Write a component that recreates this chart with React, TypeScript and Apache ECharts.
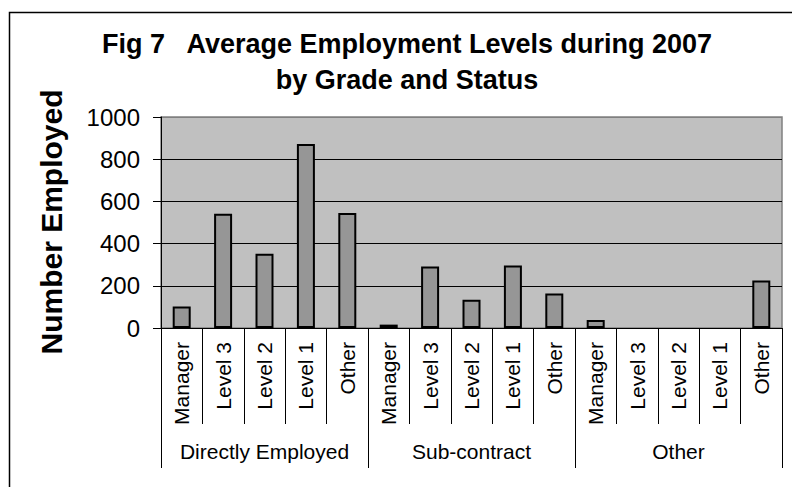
import React, { useEffect, useRef } from "react";
import * as echarts from "echarts";

const grades = ["Manager", "Level 3", "Level 2", "Level 1", "Other"];
const groups = ["Directly Employed", "Sub-contract", "Other"];
const directlyEmployed = [102, 542, 352, 872, 545];
const subContract = [16, 291, 134, 296, 164];
const otherStatus = [38, 0, 0, 0, 225];
const yTicks = [0, 200, 400, 600, 800, 1000];
const titleLine1 = "Fig 7   Average Employment Levels during 2007";
const titleLine2 = "by Grade and Status";
const yTitle = "Number Employed";

const FONT = "'Liberation Sans', Arial, sans-serif";

export default function App() {
  const ref = useRef<HTMLDivElement>(null);
  useEffect(() => {
    if (!ref.current) return;
    const chart = echarts.init(ref.current, undefined, { renderer: "svg" });
    const categories: string[] = [];
    groups.forEach(() => grades.forEach((g) => categories.push(g)));
    const values = [...directlyEmployed, ...subContract, ...otherStatus];
    const barData = values.map((v) =>
      v === 0 ? { value: v, itemStyle: { borderWidth: 0 } } : v
    );
    chart.setOption({
      animation: false,
      backgroundColor: "#ffffff",
      textStyle: { fontFamily: FONT },
      graphic: [
        {
          type: "polyline",
          z: -10,
          shape: {
            points: [
              [9.5, 487],
              [9.5, 12.5],
              [792, 12.5],
            ],
          },
          style: { fill: "none", stroke: "#000", lineWidth: 1.5 },
        },
        {
          type: "text",
          x: 407,
          y: 44,
          style: {
            text: titleLine1,
            font: `bold 27px ${FONT}`,
            fill: "#000",
            align: "center",
            verticalAlign: "middle",
          },
        },
        {
          type: "text",
          x: 407,
          y: 80,
          style: {
            text: titleLine2,
            font: `bold 27px ${FONT}`,
            fill: "#000",
            align: "center",
            verticalAlign: "middle",
          },
        },
        {
          type: "text",
          x: 51,
          y: 222,
          rotation: Math.PI / 2,
          style: {
            text: yTitle,
            font: `bold 30px ${FONT}`,
            fill: "#000",
            align: "center",
            verticalAlign: "middle",
          },
        },
      ],
      grid: {
        left: 161,
        top: 117,
        right: 10,
        bottom: 159,
        show: true,
        backgroundColor: "#c0c0c0",
        borderColor: "#808080",
        borderWidth: 1.5,
      },
      xAxis: [
        {
          type: "category",
          data: categories,
          position: "bottom",
          axisLine: { show: true, lineStyle: { color: "#000", width: 1 } },
          axisTick: {
            show: true,
            interval: 0,
            length: 96,
            lineStyle: { color: "#000", width: 1 },
          },
          axisLabel: {
            interval: 0,
            rotate: 90,
            margin: 14,
            fontSize: 21,
            color: "#000",
            fontFamily: FONT,
          },
          splitLine: { show: false },
        },
        {
          type: "category",
          data: groups,
          position: "bottom",
          axisLine: { show: false },
          axisTick: {
            show: true,
            interval: 0,
            length: 140,
            lineStyle: { color: "#000", width: 1 },
          },
          axisLabel: {
            interval: 0,
            margin: 113,
            fontSize: 21,
            color: "#000",
            fontFamily: FONT,
          },
          splitLine: { show: false },
        },
      ],
      yAxis: {
        type: "value",
        min: yTicks[0],
        max: yTicks[yTicks.length - 1],
        interval: 200,
        axisLine: { show: true, lineStyle: { color: "#000", width: 1 } },
        axisTick: {
          show: true,
          length: 8,
          lineStyle: { color: "#000", width: 1 },
        },
        axisLabel: {
          margin: 21,
          fontSize: 24,
          color: "#000",
          fontFamily: FONT,
          formatter: (v: number) => String(v),
        },
        splitLine: {
          show: true,
          lineStyle: {
            color: ["#000", "#000", "#000", "#000", "#000", "#808080"],
            width: 1,
          },
        },
      },
      series: [
        {
          type: "bar",
          xAxisIndex: 0,
          data: barData,
          barWidth: 18,
          itemStyle: {
            color: "#969696",
            borderColor: "#000",
            borderWidth: 2,
          },
        },
      ],
    });
    return () => chart.dispose();
  }, []);
  return (
    <div
      ref={ref}
      style={{ width: 792, height: 487, position: "absolute", left: 0, top: 0, overflow: "hidden" }}
    />
  );
}
